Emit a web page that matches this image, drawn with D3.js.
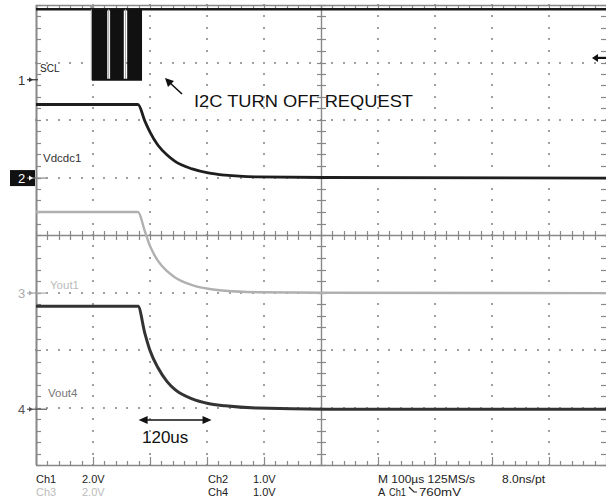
<!DOCTYPE html>
<html><head><meta charset="utf-8">
<script src="https://cdn.jsdelivr.net/npm/d3@7/dist/d3.min.js"></script>
<style>body{margin:0;background:#fff}svg{display:block}text{font-family:"Liberation Sans",Arial,sans-serif}</style>
</head><body><svg id="c" width="606" height="500"></svg>
<script>
// time in microseconds (M 100µs/div)
const times   = [0, 179, 191, 200, 214, 230, 244, 274, 302, 332, 389, 507, 1000];
const vdcdc1  = [1.28, 1.28, 0.99, 0.80, 0.57, 0.40, 0.29, 0.16, 0.09, 0.05, 0.02, 0.01, 0];
const yout1   = [2.82, 2.82, 2.15, 1.64, 1.12, 0.76, 0.54, 0.28, 0.15, 0.08, 0.03, 0.01, 0];
const vout4   = [1.79, 1.79, 1.32, 1.02, 0.72, 0.48, 0.34, 0.18, 0.10, 0.06, 0.02, 0, 0];
const sclHigh = 2.45;
const sclBursts = [[98, 125], [130, 154], [160, 186]];
const channelNames   = ["SCL", "Vdcdc1", "Yout1", "Vout4"];
const channelOffsets = [2.7, 0.99, -1.01, -3.03];   // ground marker, divisions from centre
const voltsPerDiv    = [2, 1, 2, 1];
const triggerLevel   = 0.76;
const triggerTime    = 98;
const annotation     = "I2C TURN OFF REQUEST";
const spanLabel      = "120us";
const span           = [180, 308];
const readoutRow1 = [["Ch1", 36], ["2.0V", 82], ["Ch2", 208], ["1.0V", 253], ["M 100µs 125MS/s", 378, null, 97], ["8.0ns/pt", 502, null, 43]];
const readoutRow2 = [["Ch3", 36, "#bbb"], ["2.0V", 82, "#bbb"], ["Ch4", 208], ["1.0V", 253], ["A", 378], ["Ch1", 389, null, 17], ["760mV", 419, null, 42]];

const svg = d3.select("#c");
const x = d3.scaleLinear().domain([0, 1000]).range([36, 606]);
const yDiv = d3.scaleLinear().domain([-4, 4]).range([465, 5]);
const yCh = (ch, v) => yDiv(channelOffsets[ch] + v / voltsPerDiv[ch]);
const px = v => Math.round(v) + 0.5;

const gridCol = "#888";
const g = svg.append("g");

// dotted graticule
const majorX = d3.range(100, 1000, 100).filter(t => t !== 500);
const majorY = d3.range(-3, 4, 1).filter(d => d !== 0);
const minorYs = d3.range(-4, 4.001, 0.2);
const minorXs = d3.range(0, 1000.1, 20);
const dot = (cx, cy) => g.append("rect").attr("x", Math.round(cx) - 1).attr("y", Math.round(cy) - 1)
  .attr("width", 2).attr("height", 2).attr("fill", "#a0a0a0");
majorX.forEach(t => minorYs.forEach(d => dot(x(t), yDiv(d))));
majorY.forEach(d => minorXs.forEach(t => dot(x(t), yDiv(d))));

// centre cross with ticks
g.append("line").attr("x1", x(0)).attr("x2", x(1000)).attr("y1", px(yDiv(0))).attr("y2", px(yDiv(0))).attr("stroke", gridCol).attr("stroke-width", 1.4);
g.append("line").attr("x1", px(x(500))).attr("x2", px(x(500))).attr("y1", yDiv(-4)).attr("y2", yDiv(4)).attr("stroke", gridCol).attr("stroke-width", 1.4);
minorXs.forEach(t => g.append("line").attr("x1", px(x(t))).attr("x2", px(x(t))).attr("y1", yDiv(0) - 4).attr("y2", yDiv(0) + 5).attr("stroke", gridCol).attr("stroke-width", 1.2));
minorYs.forEach(d => g.append("line").attr("x1", x(500) - 4).attr("x2", x(500) + 5).attr("y1", px(yDiv(d))).attr("y2", px(yDiv(d))).attr("stroke", gridCol).attr("stroke-width", 1.2));

// border with ticks
g.append("line").attr("x1", x(0)).attr("x2", x(1000)).attr("y1", px(yDiv(4))).attr("y2", px(yDiv(4))).attr("stroke", gridCol).attr("stroke-width", 1.6);
g.append("line").attr("x1", x(0)).attr("x2", x(1000)).attr("y1", px(yDiv(-4))).attr("y2", px(yDiv(-4))).attr("stroke", gridCol).attr("stroke-width", 1.6);
g.append("line").attr("x1", px(x(0))).attr("x2", px(x(0))).attr("y1", yDiv(4)).attr("y2", yDiv(-4)).attr("stroke", gridCol).attr("stroke-width", 2);
minorXs.forEach((t, i) => {
  g.append("line").attr("x1", px(x(t))).attr("x2", px(x(t))).attr("y1", yDiv(4)).attr("y2", yDiv(4) + 5).attr("stroke", gridCol).attr("stroke-width", 1.2);
  const big = i % 5 === 0;
  g.append("line").attr("x1", px(x(t))).attr("x2", px(x(t))).attr("y1", yDiv(-4)).attr("y2", yDiv(-4) - (big ? 8 : 4)).attr("stroke", gridCol).attr("stroke-width", 1.2);
});
minorYs.forEach(d => {
  g.append("line").attr("x1", x(0)).attr("x2", x(0) + 5).attr("y1", px(yDiv(d))).attr("y2", px(yDiv(d))).attr("stroke", gridCol).attr("stroke-width", 1.2);
  g.append("line").attr("x1", x(1000) - 5).attr("x2", x(1000)).attr("y1", px(yDiv(d))).attr("y2", px(yDiv(d))).attr("stroke", gridCol).attr("stroke-width", 1.2);
});

// trigger position marker at top
g.append("path").attr("d", `M${x(triggerTime) - 3},${yDiv(4)} L${x(triggerTime) + 3},${yDiv(4)} L${x(triggerTime)},${yDiv(4) + 5}Z`).attr("fill", "#999");

// SCL trace (ch1): high level, burst blocks, toggles in the gaps
g.append("line").attr("x1", x(0)).attr("x2", x(1000)).attr("y1", yCh(0, sclHigh)).attr("y2", yCh(0, sclHigh))
  .attr("stroke", "#1a1a1a").attr("stroke-width", 2.6);
sclBursts.forEach(([a, b]) => {
  g.append("rect").attr("x", x(a)).attr("y", yCh(0, sclHigh)).attr("width", x(b) - x(a)).attr("height", yCh(0, 0) - yCh(0, sclHigh)).attr("fill", "#111");
});
g.append("line").attr("x1", x(sclBursts[0][0]) - 0.5).attr("x2", x(sclBursts[0][0]) - 0.5).attr("y1", yCh(0, sclHigh)).attr("y2", yCh(0, 0))
  .attr("stroke", "#999").attr("stroke-width", 1);
sclBursts.slice(1).forEach(([a], i) => {
  const m = x((sclBursts[i][1] + a) / 2);
  g.append("line").attr("x1", m).attr("x2", m).attr("y1", yCh(0, sclHigh)).attr("y2", yCh(0, 0)).attr("stroke", "#aaa").attr("stroke-width", 1);
});
g.append("line").attr("x1", x(sclBursts[0][0])).attr("x2", x(sclBursts[2][1])).attr("y1", yCh(0, 0)).attr("y2", yCh(0, 0))
  .attr("stroke", "#111").attr("stroke-width", 2);

// analog traces
const traces = [[1, vdcdc1, "#1e1e1e", 2.8], [2, yout1, "#b0b0b0", 2.4], [3, vout4, "#333", 3]];
traces.forEach(([ch, vals, col, w]) => {
  g.append("path").datum(times.map((t, i) => [t, vals[i]]))
    .attr("d", d3.line().x(d => x(d[0])).y(d => yCh(ch, d[1])).curve(d3.curveMonotoneX))
    .attr("fill", "none").attr("stroke", col).attr("stroke-width", w).attr("stroke-linejoin", "round");
});

// channel ground markers
const markerCols = ["#333", "#fff", "#aaa", "#555"];
channelOffsets.forEach((o, i) => {
  const yy = yDiv(o);
  if (i === 1) g.append("rect").attr("x", 10).attr("y", yy - 8).attr("width", 25).attr("height", 16).attr("fill", "#111");
  g.append("text").attr("x", 18).attr("y", yy + 5).attr("font-size", 13).attr("fill", markerCols[i]).text(String(i + 1));
  g.append("line").attr("x1", 27).attr("x2", i === 0 ? 38 : 47).attr("y1", yy).attr("y2", yy).attr("stroke", i === 1 ? "#888" : markerCols[i]).attr("stroke-width", 1.2);
  g.append("path").attr("d", `M29,${yy - 2.5} L33,${yy} L29,${yy + 2.5}Z`).attr("fill", markerCols[i]);
});

// channel labels
const labelPos = [[40, 72, 10, "#222"], [43, 162, 11.5, "#333"], [50, 289, 11.5, "#bbb"], [48, 397, 11.5, "#777"]];
channelNames.forEach((n, i) => {
  g.append("text").attr("x", labelPos[i][0]).attr("y", labelPos[i][1]).attr("font-size", labelPos[i][2]).attr("fill", labelPos[i][3]).text(n);
});

// trigger level marker (right)
const ty = yCh(0, triggerLevel);
g.append("line").attr("x1", 596).attr("x2", 606).attr("y1", ty).attr("y2", ty).attr("stroke", "#111").attr("stroke-width", 2.2);
g.append("path").attr("d", `M592,${ty} L598,${ty - 4} L598,${ty + 4}Z`).attr("fill", "#111");

// annotation arrow + text
g.append("line").attr("x1", 182).attr("y1", 94).attr("x2", 169).attr("y2", 82).attr("stroke", "#111").attr("stroke-width", 1.6);
g.append("path").attr("d", "M165,78 L174,81 L168,87Z").attr("fill", "#111");
g.append("text").attr("x", 194).attr("y", 107).attr("font-size", 17).attr("fill", "#111")
  .attr("textLength", 219).attr("lengthAdjust", "spacingAndGlyphs").text(annotation);

// 120us span arrow
const sy = 420;
g.append("line").attr("x1", x(span[0]) + 4).attr("x2", x(span[1]) - 4).attr("y1", sy).attr("y2", sy).attr("stroke", "#111").attr("stroke-width", 1.6);
g.append("path").attr("d", `M${x(span[0])},${sy} L${x(span[0]) + 9},${sy - 4} L${x(span[0]) + 9},${sy + 4}Z`).attr("fill", "#111");
g.append("path").attr("d", `M${x(span[1])},${sy} L${x(span[1]) - 9},${sy - 4} L${x(span[1]) - 9},${sy + 4}Z`).attr("fill", "#111");
g.append("text").attr("x", 142).attr("y", 443).attr("font-size", 17).attr("fill", "#111").text(spanLabel);

// readouts
const readout = (row, yy) => row.forEach(([t, xx, c, len]) => {
  const tx = g.append("text").attr("x", xx).attr("y", yy).attr("font-size", 11).attr("fill", c || "#222").text(t);
  if (len) tx.attr("textLength", len).attr("lengthAdjust", "spacingAndGlyphs");
});
readout(readoutRow1, 483);
readout(readoutRow2, 496);
g.append("path").attr("d", "M409,487 L414,492 L417,492").attr("fill", "none").attr("stroke", "#222").attr("stroke-width", 1.2);
</script></body></html>
